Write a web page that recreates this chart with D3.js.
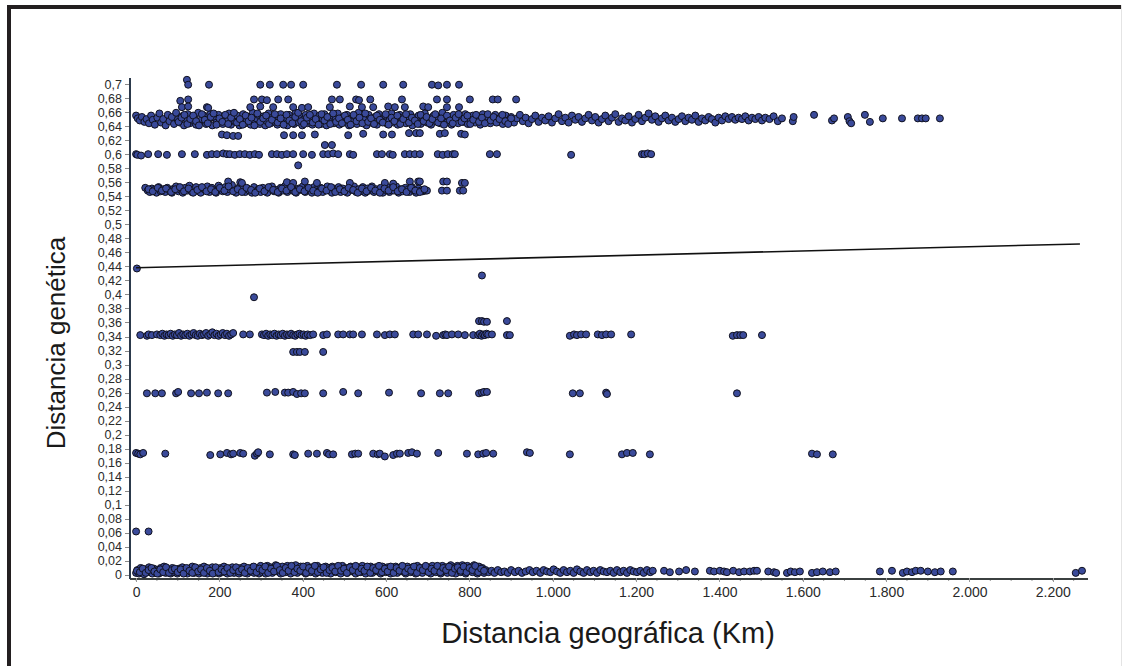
<!DOCTYPE html>
<html>
<head>
<meta charset="UTF-8">
<title>Distancia genética vs geográfica</title>
<style>
  body { margin: 0; background: #fff; }
  svg { display: block; }
  .axis text { font-family: Arial, "Liberation Sans", sans-serif; fill: #2a2a2a; }
  .axis path, .axis line { fill: none; shape-rendering: crispEdges; }
  .title { font-family: Arial, "Liberation Sans", sans-serif; fill: #1a1a1a; }
</style>
</head>
<body>
<script src="https://cdn.jsdelivr.net/npm/d3@7"></script>
<script>
// ticks
var yTicks = [0, 0.02, 0.04, 0.06, 0.08, 0.1, 0.12, 0.14, 0.16, 0.18, 0.2, 0.22, 0.24, 0.26, 0.28, 0.3,
  0.32, 0.34, 0.36, 0.38, 0.4, 0.42, 0.44, 0.46, 0.48, 0.5, 0.52, 0.54, 0.56, 0.58, 0.6, 0.62, 0.64,
  0.66, 0.68, 0.7];
var xTicks = [0, 200, 400, 600, 800, 1000, 1200, 1400, 1600, 1800, 2000, 2200];

// regression line (km, distance)
var regX = [0, 2265];
var regY = [0.438, 0.472];

// points [km, distance]
var band065 = [[0,.655],[4,.651],[9,.648],[14,.653],[20,.646],[25,.650],[31,.644],[36,.655],[40,.649],[45,.642],
  [51,.652],[56,.658],[60,.645],[65,.650],[71,.641],[76,.656],[80,.647],[86,.653],[91,.643],[96,.659],
  [100,.649],[105,.645],[110,.654],[115,.641],[120,.651],[124,.657],[129,.644],[134,.648],[139,.653],[144,.642],
  [149,.659],[153,.646],[158,.650],[163,.655],[168,.643],[173,.648],[178,.657],[183,.641],[188,.652],[193,.645],
  [198,.656],[203,.649],[208,.643],[213,.654],[218,.647],[223,.658],[228,.642],[233,.651],[238,.646],[243,.655],
  [248,.641],[252,.650],[257,.657],[262,.644],[266,.648],[271,.653],[275,.642],[280,.659],[284,.646],[289,.651],
  [293,.656],[297,.643],[302,.649],[306,.654],[310,.641],[314,.647],[318,.658],[323,.644],[327,.652],[331,.646],
  [335,.655],[339,.642],[343,.650],[347,.657],[351,.645],[355,.649],[359,.653],[363,.641],[367,.656],[371,.647],
  [375,.651],[379,.643],[383,.659],[387,.648],[391,.645],[395,.654],[399,.641],[403,.650],[407,.656],[411,.644],
  [415,.648],[419,.653],[423,.642],[427,.658],[431,.646],[435,.651],[440,.655],[444,.643],[448,.649],[452,.657],
  [457,.641],[461,.652],[466,.646],[470,.655],[475,.644],[479,.650],[484,.658],[488,.642],[493,.648],[497,.653],
  [502,.645],[506,.656],[511,.641],[516,.651],[520,.647],[525,.654],[530,.643],[534,.659],[539,.649],[544,.645],
  [549,.652],[553,.641],[558,.656],[563,.648],[568,.644],[573,.653],[578,.642],[583,.657],[588,.647],[593,.650],
  [598,.655],[603,.643],[608,.648],[613,.658],[618,.645],[623,.651],[628,.642],[633,.656],[638,.647],[643,.653],
  [648,.644],[653,.650],[658,.657],[663,.641],[668,.652],[673,.646],[678,.655],[683,.643],[688,.649],[693,.658],
  [698,.645],[703,.651],[708,.642],[714,.655],[719,.647],[724,.653],[730,.644],[735,.659],[740,.649],[746,.645],
  [751,.652],[757,.642],[762,.656],[768,.648],[773,.644],[779,.653],[785,.646],[790,.657],[796,.643],[802,.650],
  [808,.655],[814,.645],[820,.651],[826,.642],[832,.657],[838,.648],[844,.653],[850,.644],[856,.650],[862,.656],
  [868,.646],[874,.652],[880,.643],[887,.655],[893,.648],[900,.653],[907,.645],[914,.651],[921,.656],[928,.647],
  [935,.652],[942,.644],[950,.650],[958,.655],[966,.646],[974,.652],[982,.648],[990,.654],[998,.645],
  [1006,.651],[1014,.657],[1022,.647],[1030,.652],[1038,.645],[1046,.655],[1054,.649],[1062,.653],[1070,.646],
  [1078,.651],[1086,.656],[1094,.648],[1102,.653],[1110,.645],[1118,.650],[1126,.655],[1134,.647],[1142,.652],
  [1150,.657],[1158,.646],[1166,.651],[1174,.648],[1182,.654],[1190,.645],[1198,.650],[1206,.656],[1214,.647],
  [1222,.652],[1230,.658],[1238,.649],[1246,.654],[1254,.646],[1262,.651],[1270,.655],[1278,.648],[1286,.652],
  [1294,.646],[1302,.650],[1310,.654],[1318,.647],[1326,.652],[1334,.649],[1342,.655],[1350,.646],[1358,.651],
  [1366,.648],[1374,.653],[1382,.650],[1390,.645],[1398,.652],[1406,.648],[1414,.654],[1422,.650],[1430,.653],
  [1438,.649],[1446,.652],[1454,.650],[1462,.654],[1470,.648],[1478,.652],[1486,.650],[1494,.653],[1502,.648],
  [1510,.652],[1520,.650],[1530,.654],[1540,.647],[1550,.651],
  [1576,.647],[1578,.653],[1627,.656],[1670,.648],[1675,.651],[1708,.653],[1712,.647],[1716,.644],[1749,.656],
  [1761,.646],[1792,.651],[1838,.651],[1876,.651],[1886,.651],[1895,.651],[1929,.651]];

// second pass over the darkest stretch of the 0.65 band
var band065b = [[102,.646],[109,.652],[116,.656],[123,.643],[130,.650],[137,.655],[144,.647],[151,.641],[158,.657],
  [165,.649],[172,.644],[179,.653],[186,.658],[193,.642],[200,.651],[207,.646],[214,.656],[221,.643],[228,.652],
  [235,.659],[242,.645],[249,.650],[256,.642],[263,.655],[270,.647],[277,.652],[284,.641],[291,.658],[298,.646],
  [305,.651],[312,.655],[319,.643],[326,.649],[333,.657],[340,.645],[347,.651],[354,.642],[361,.656],[368,.648],
  [375,.644],[382,.653],[389,.659],[396,.647],[403,.643],[410,.652],[417,.656],[424,.645],[431,.650],[438,.642],
  [445,.657],[452,.648],[459,.653],[466,.643],[473,.658],[480,.646],[487,.651],[494,.644],[501,.655],[508,.649],
  [515,.642],[522,.656],[529,.647],[536,.652],[543,.644],[550,.658],[557,.646],[564,.651],[571,.643],[578,.655],
  [585,.649],[592,.645],[599,.657],[606,.642],[613,.652],[620,.647],[627,.655],[634,.643],[641,.650],[648,.657],
  [655,.645],[662,.652],[669,.648],[676,.643],[683,.656],[690,.647],[697,.653],[704,.644],[711,.650],[718,.657],
  [725,.645],[732,.651],[739,.642],[746,.655],[753,.648],[760,.644],[767,.652],[774,.657],[781,.646],[788,.651],
  [795,.655],[802,.643],[809,.649],[816,.656],[823,.646],[830,.652],[837,.644],[844,.657],[851,.648],[858,.653],
  [865,.645],[872,.650],[879,.656],[886,.647],[893,.643],[900,.651]];

var upper = [[122,.706],[125,.699],[175,.699],[298,.699],[321,.699],[353,.699],[372,.699],[401,.699],[482,.699],
  [540,.699],[593,.699],[641,.699],[710,.699],[725,.698],[746,.699],[775,.699],
  [106,.676],[125,.678],[283,.678],[302,.678],[314,.677],[341,.678],[365,.678],[470,.678],[489,.678],[528,.678],
  [535,.677],[562,.678],[638,.678],[722,.678],[746,.678],[801,.678],[856,.678],[868,.678],[912,.678],
  [110,.667],[125,.668],[170,.667],[173,.666],[274,.667],[298,.668],[329,.667],[377,.667],[398,.666],[413,.667],
  [465,.667],[513,.668],[542,.667],[569,.667],[605,.668],[621,.667],[645,.667],[689,.668],[701,.667],[746,.667],
  [775,.667],
  [206,.628],[218,.627],[233,.626],[245,.626],[355,.627],[377,.627],[398,.627],[429,.628],[509,.627],[545,.629],
  [593,.628],[614,.628],[655,.630],[672,.630],[681,.630],[729,.629],[741,.630],[780,.629],[789,.628],
  [453,.613],[470,.613],[389,.584]];

var band060 = [[0,.600],[3,.599],[12,.598],[29,.600],[53,.600],[74,.599],[110,.600],[141,.600],[170,.599],[182,.600],
  [194,.600],[209,.601],[218,.600],[225,.600],[237,.599],[249,.600],[261,.600],[273,.599],[285,.600],[295,.599],
  [326,.600],[338,.600],[350,.599],[362,.600],[377,.600],[401,.600],[422,.599],[449,.600],[461,.600],[473,.601],
  [485,.600],[513,.600],[521,.599],[578,.600],[590,.600],[609,.600],[616,.599],[645,.600],[657,.600],[669,.600],
  [681,.600],[724,.600],[736,.599],[748,.600],[760,.600],[765,.600],[849,.600],[866,.600],
  [1044,.599],[1214,.600],[1220,.600],[1228,.601],[1236,.600]];

var band055 = [[22,.552],[28,.548],[33,.546],[38,.551],[44,.549],[49,.545],[54,.553],[59,.547],[65,.550],[70,.546],
  [75,.552],[81,.548],[86,.545],[91,.551],[96,.554],[102,.547],[107,.549],[112,.545],[118,.552],[123,.548],
  [128,.555],[134,.546],[139,.550],[144,.553],[150,.547],[155,.545],[160,.551],[166,.549],[171,.554],[176,.546],
  [182,.552],[187,.548],[192,.545],[198,.555],[203,.549],[208,.547],[214,.553],[219,.546],[224,.550],[230,.556],
  [235,.548],[240,.545],[246,.552],[251,.549],[256,.554],[262,.546],[267,.551],[272,.548],[278,.545],[283,.553],
  [288,.547],[294,.550],[299,.546],[304,.552],[310,.548],[315,.545],[320,.551],[326,.554],[331,.547],[336,.549],
  [342,.545],[347,.552],[352,.548],[358,.555],[363,.546],[368,.550],[374,.553],[379,.547],[384,.545],[390,.551],
  [395,.549],[400,.554],[406,.546],[411,.552],[416,.548],[422,.545],[427,.553],[432,.549],[438,.547],[443,.552],
  [448,.546],[454,.550],[459,.554],[464,.548],[470,.545],[475,.551],[480,.549],[486,.553],[491,.546],[496,.551],
  [502,.548],[507,.545],[512,.552],[518,.549],[523,.554],[528,.546],[534,.550],[539,.547],[544,.553],[550,.545],
  [555,.551],[560,.548],[566,.554],[571,.546],[576,.550],[582,.547],[587,.552],[592,.545],[598,.549],[603,.553],
  [608,.546],[614,.551],[619,.548],[624,.554],[630,.545],[635,.550],[640,.547],[646,.552],[651,.549],[656,.546],
  [662,.553],[667,.548],[672,.545],[678,.551],[683,.548],[688,.547],[694,.548],[698,.548],
  [734,.548],[746,.548],[777,.548],[785,.548],
  [221,.561],[250,.560],[254,.559],[362,.560],[377,.559],[405,.561],[434,.559],[513,.559],[597,.559],[617,.558],
  [657,.561],[677,.561],[681,.561],[737,.561],[746,.561],[782,.559],[789,.559]];

var band055b = [[30,.550],[40,.547],[52,.552],[62,.548],[72,.551],[84,.546],[94,.550],[105,.553],[115,.547],
  [126,.551],[137,.545],[147,.549],[158,.553],[169,.547],[180,.550],[190,.546],[201,.552],[212,.548],[222,.554],
  [233,.547],[244,.550],[254,.546],[265,.552],[276,.549],[286,.545],[297,.551],[308,.547],[318,.553],[329,.549],
  [340,.546],[350,.551],[361,.548],[372,.553],[382,.546],[393,.550],[404,.547],[414,.552],[425,.548],[436,.545],
  [446,.551],[457,.548],[468,.553],[478,.546],[489,.550],[500,.547],[510,.552],[521,.549],[532,.545],[542,.551],
  [553,.547],[564,.552],[574,.548],[585,.545],[596,.551],[606,.548],[617,.553],[628,.547],[638,.550],[649,.546],
  [660,.552],[670,.548],[681,.546],[692,.550]];

var singles = [[2,.437],[830,.427],[283,.396],[0,.062],[30,.062]];

var band034 = [[10,.342],[26,.341],[30,.343],[38,.342],[50,.343],[58,.342],[63,.344],[68,.341],[73,.343],[78,.342],
  [83,.344],[88,.341],[93,.343],[98,.342],[103,.345],[108,.341],[113,.343],[118,.342],[123,.344],[128,.341],
  [133,.343],[138,.345],[143,.342],[148,.341],[153,.344],[158,.342],[163,.343],[168,.345],[173,.341],[178,.343],
  [183,.346],[188,.342],[193,.344],[198,.341],[203,.343],[208,.345],[213,.342],[218,.344],[223,.341],[228,.343],
  [233,.345],[257,.343],[273,.343],[302,.343],[307,.342],[312,.344],[317,.341],[322,.343],[327,.342],[332,.344],
  [337,.341],[342,.343],[347,.342],[352,.344],[357,.341],[362,.343],[367,.342],[372,.344],[377,.342],[382,.341],
  [387,.343],[392,.344],[397,.342],[402,.343],[407,.341],[412,.343],[418,.342],[425,.343],[449,.342],[458,.343],
  [485,.343],[497,.343],[513,.343],[521,.343],[542,.343],[578,.343],[597,.342],[609,.343],[621,.343],[665,.343],
  [677,.343],[698,.343],[720,.341],[737,.342],[742,.343],[746,.342],[758,.343],[773,.343],[789,.342],[809,.342],
  [821,.342],[825,.344],[829,.341],[833,.343],[837,.342],[841,.344],[845,.343],[854,.343],[890,.342],[897,.342],
  [1041,.341],[1051,.343],[1058,.342],[1068,.343],[1080,.343],[1108,.343],[1118,.342],[1128,.343],[1140,.343],
  [1188,.343],[1432,.341],[1442,.342],[1450,.342],[1457,.342],[1502,.342],
  [823,.362],[830,.362],[835,.361],[842,.361],[890,.362],
  [377,.318],[386,.318],[393,.318],[405,.318],[449,.318]];

var band026 = [[26,.259],[46,.259],[62,.259],[96,.259],[101,.261],[132,.259],[151,.259],[170,.260],[197,.259],
  [221,.259],[314,.260],[334,.261],[357,.260],[365,.260],[377,.261],[386,.258],[396,.259],[405,.259],[449,.259],
  [497,.261],[533,.259],[607,.260],[684,.259],[729,.259],[749,.259],[823,.259],[830,.260],[835,.261],[842,.261],
  [1048,.259],[1065,.259],[1128,.260],[1130,.258],[1442,.259]];

var band017 = [[0,.174],[5,.173],[10,.172],[17,.174],[70,.173],[178,.171],[202,.172],[218,.174],[228,.172],
  [233,.173],[250,.174],[257,.173],[285,.170],[290,.173],[293,.175],[321,.172],[377,.172],[381,.171],[413,.173],
  [434,.173],[458,.174],[463,.172],[473,.172],[518,.172],[526,.173],[533,.173],[569,.173],[580,.172],[585,.173],
  [597,.169],[617,.171],[626,.173],[633,.173],[653,.174],[662,.175],[674,.173],[725,.174],[794,.173],[821,.172],
  [833,.173],[840,.174],[857,.173],[938,.175],[945,.174],[1041,.172],[1166,.172],[1178,.174],[1192,.174],
  [1233,.172],[1622,.173],[1634,.172],[1672,.172]];

var band000 = [[0,.003],[3,.007],[7,.002],[11,.010],[15,.005],[19,.001],[23,.008],[27,.004],[31,.011],[35,.006],
  [39,.002],[43,.009],[47,.004],[51,.007],[55,.002],[59,.010],[63,.005],[67,.012],[71,.003],[75,.008],
  [79,.006],[83,.002],[87,.010],[91,.004],[95,.007],[99,.002],[103,.009],[107,.005],[111,.011],[115,.003],
  [119,.007],[123,.002],[127,.009],[131,.005],[135,.012],[139,.003],[143,.008],[147,.006],[151,.002],[155,.010],
  [159,.004],[163,.012],[167,.007],[171,.002],[175,.009],[179,.005],[183,.011],[187,.003],[191,.008],[195,.006],
  [199,.002],[203,.010],[207,.004],[211,.012],[215,.007],[219,.002],[223,.009],[227,.005],[231,.011],[235,.003],
  [239,.008],[243,.006],[247,.002],[251,.010],[255,.004],[259,.012],[263,.007],[267,.002],[271,.009],[275,.005],
  [279,.011],[283,.003],[287,.008],[291,.006],[295,.002],[299,.013],
  [303,.004],[307,.009],[311,.002],[315,.013],[319,.006],[323,.011],[327,.003],[331,.008],[335,.014],[339,.005],
  [343,.010],[347,.002],[351,.012],[355,.007],[359,.004],[363,.013],[367,.009],[371,.002],[375,.011],[379,.006],
  [383,.014],[387,.003],[391,.008],[395,.012],[399,.005],[403,.010],[407,.002],[411,.013],[415,.007],[419,.004],
  [423,.011],[427,.009],[431,.002],[435,.013],[439,.006],[443,.010],[447,.003],[451,.008],[455,.012],[459,.005],
  [463,.010],[467,.002],[471,.012],[475,.007],[479,.004],[483,.011],[487,.009],[491,.002],[495,.013],[499,.006],
  [503,.010],[507,.003],[511,.008],[515,.012],[519,.005],[523,.010],[527,.002],[531,.011],[535,.007],[539,.004],
  [543,.013],[547,.008],[551,.002],[555,.010],[559,.006],[563,.012],[567,.003],[571,.008],[575,.011],[579,.005],
  [583,.010],[587,.002],[591,.012],[595,.007],[599,.004],[603,.011],[607,.008],[611,.002],[615,.010],[619,.006],
  [623,.012],[627,.003],[631,.008],[635,.011],[639,.005],[643,.009],[647,.002],[651,.012],[655,.007],[659,.004],
  [663,.011],[667,.009],[671,.002],[675,.013],[679,.006],[683,.010],[687,.003],[691,.008],[695,.012],[699,.005],
  [703,.010],[707,.002],[711,.013],[715,.007],[719,.004],[723,.012],[727,.009],[731,.002],[735,.013],[739,.006],
  [743,.011],[747,.003],[751,.009],[755,.014],[759,.005],[763,.011],[767,.002],[771,.013],[775,.008],[779,.004],
  [783,.014],[787,.010],[791,.002],[795,.013],[799,.007],[803,.011],[807,.004],[811,.014],[815,.009],[819,.002],
  [823,.012],[827,.006],[831,.010],[835,.003],[839,.007],
  [846,.004],[853,.006],[860,.003],[868,.007],[876,.004],[884,.005],[892,.003],[900,.007],[909,.004],[918,.006],
  [926,.003],[935,.005],[944,.007],[952,.004],[961,.006],[970,.003],[978,.007],[986,.005],[994,.004],[1002,.008],
  [1010,.005],[1018,.003],[1026,.007],[1034,.004],[1042,.006],[1050,.003],[1058,.008],[1066,.005],[1074,.003],
  [1082,.007],[1090,.004],[1098,.006],[1106,.003],[1114,.007],[1122,.005],[1130,.004],[1138,.006],[1146,.003],
  [1154,.007],[1162,.004],[1170,.006],[1178,.003],[1186,.007],[1194,.005],[1202,.004],[1210,.006],[1218,.003],
  [1226,.007],[1234,.004],[1240,.006],
  [1267,.006],[1281,.004],[1303,.005],[1320,.007],[1341,.005],[1377,.006],[1387,.005],[1401,.006],[1411,.005],
  [1418,.004],[1433,.006],[1447,.004],[1459,.005],[1473,.005],[1483,.006],[1490,.006],[1517,.005],[1531,.004],
  [1536,.003],[1562,.003],[1571,.005],[1581,.004],[1593,.005],[1622,.003],[1634,.004],[1648,.005],[1665,.004],
  [1679,.005],[1785,.005],[1814,.006],[1840,.003],[1850,.005],[1862,.004],[1871,.006],[1883,.006],[1900,.005],
  [1917,.004],[1931,.005],[1960,.005],[2255,.003],[2270,.006]];

// second pass over the dense 0–840 km stretch near zero
var band000b = [[2,.006],[9,.004],[16,.009],[23,.003],[30,.007],[37,.010],[44,.005],[51,.002],[58,.008],[65,.004],
  [72,.011],[79,.003],[86,.007],[93,.009],[100,.004],[107,.008],[114,.002],[121,.010],[128,.006],[135,.003],
  [142,.011],[149,.005],[156,.008],[163,.003],[170,.010],[177,.006],[184,.002],[191,.011],[198,.004],[205,.008],
  [212,.005],[219,.010],[226,.003],[233,.007],[240,.011],[247,.005],[254,.008],[261,.003],[268,.010],[275,.006],
  [282,.012],[289,.004],[296,.009],[303,.007],[310,.012],[317,.003],[324,.009],[331,.005],[338,.013],[345,.007],
  [352,.003],[359,.010],[366,.006],[373,.013],[380,.004],[387,.009],[394,.006],[401,.012],[408,.003],[415,.010],
  [422,.006],[429,.013],[436,.004],[443,.008],[450,.011],[457,.003],[464,.007],[471,.010],[478,.005],[485,.013],
  [492,.006],[499,.009],[506,.003],[513,.011],[520,.007],[527,.013],[534,.004],[541,.009],[548,.006],[555,.012],
  [562,.003],[569,.010],[576,.007],[583,.013],[590,.004],[597,.009],[604,.005],[611,.012],[618,.003],[625,.010],
  [632,.006],[639,.013],[646,.004],[653,.009],[660,.006],[667,.012],[674,.003],[681,.010],[688,.007],[695,.013],
  [702,.004],[709,.009],[716,.006],[723,.013],[730,.004],[737,.010],[744,.007],[751,.012],[758,.003],[765,.009],
  [772,.011],[779,.006],[786,.012],[793,.004],[800,.010],[807,.007],[814,.013],[821,.004],[828,.009],[835,.006]];

var W = 1122, H = 666;
var svg = d3.select('body').append('svg').attr('width', W).attr('height', H);
svg.append('rect').attr('width', W).attr('height', H).attr('fill', '#fff');

// frame (top + left heavy, right hairline)
svg.append('rect').attr('x', 7).attr('y', 5).attr('width', W - 7).attr('height', 4).attr('fill', '#231f20');
svg.append('rect').attr('x', 7).attr('y', 5).attr('width', 4).attr('height', H - 5).attr('fill', '#231f20');
svg.append('rect').attr('x', W - 1).attr('y', 5).attr('width', 1).attr('height', H - 5).attr('fill', '#e4e4e4');

var locale = d3.formatLocale({decimal: ',', thousands: '.', grouping: [3], currency: ['', '']});
var fy = locale.format('.2~f'), fx = locale.format(',');

var x = d3.scaleLinear().domain([-17, 2282]).range([129, 1087]);
var y = d3.scaleLinear().domain([-0.0043, 0.71]).range([578, 77]);

// x axis minor ticks every 50 km
var minor = d3.range(0, 2251, 50);
svg.append('g').attr('transform', 'translate(0,578)')
  .selectAll('line').data(minor).enter().append('line')
  .attr('x1', function(d){ return x(d); }).attr('x2', function(d){ return x(d); })
  .attr('y1', 0).attr('y2', 3).attr('stroke', '#9a9a9a');

var xAxis = svg.append('g').attr('class', 'axis').attr('transform', 'translate(0,578)')
  .call(d3.axisBottom(x).tickValues(xTicks).tickFormat(fx).tickSize(4).tickSizeOuter(0).tickPadding(5));
xAxis.select('.domain').attr('stroke', '#3b4040').attr('stroke-width', 2);
xAxis.selectAll('.tick line').attr('stroke', '#9a9a9a');
xAxis.selectAll('text').attr('font-size', 14).attr('fill', '#2a2a2a');

var yAxis = svg.append('g').attr('class', 'axis').attr('transform', 'translate(129,0)')
  .call(d3.axisLeft(y).tickValues(yTicks).tickFormat(fy).tickSize(4).tickSizeOuter(0).tickPadding(3));
yAxis.select('.domain').attr('stroke', '#2c3a4c').attr('stroke-width', 2);
yAxis.selectAll('.tick line').attr('stroke', '#8a8a8a');
yAxis.selectAll('text').attr('font-size', 12.5).attr('fill', '#2a2a2a');

// points
var all = [].concat(band065, band065b, upper, band060, band055, band055b, singles,
  band034, band026, band017, band000, band000b);
svg.append('g').selectAll('circle').data(all).enter().append('circle')
  .attr('cx', function(d){ return x(d[0]); })
  .attr('cy', function(d){ return y(d[1]); })
  .attr('r', 3.5)
  .attr('fill', '#3a4a9a')
  .attr('stroke', '#10111f')
  .attr('stroke-width', 1);

// regression line
svg.append('line')
  .attr('x1', x(regX[0])).attr('y1', y(regY[0]))
  .attr('x2', x(regX[1])).attr('y2', y(regY[1]))
  .attr('stroke', '#111').attr('stroke-width', 1.6);

// axis titles
svg.append('text').attr('class', 'title')
  .attr('x', 608).attr('y', 643).attr('text-anchor', 'middle').attr('font-size', 29)
  .text('Distancia geográfica (Km)');
svg.append('text').attr('class', 'title')
  .attr('transform', 'translate(65,343) rotate(-90)').attr('text-anchor', 'middle').attr('font-size', 26)
  .text('Distancia genética');
</script>
</body>
</html>
